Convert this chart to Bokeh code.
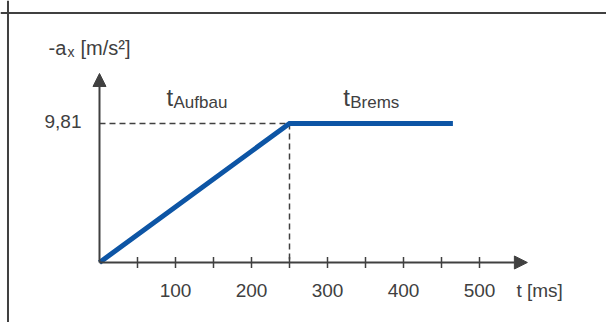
from math import pi
from bokeh.plotting import figure
from bokeh.models import Arrow, NormalHead, Span
from bokeh.core.properties import value
from bokeh.embed import file_html
from bokeh.resources import INLINE

# ---- data ----
time_ms = [0, 250, 465]          # t [ms]
decel = [0, 9.81, 9.81]          # -a_x [m/s²]
a_max = 9.81
a_max_label = "9,81"
tick_values = [50, 100, 150, 200, 250, 300, 350, 400, 450, 500]
label_values = [100, 200, 300, 400, 500]
label_texts = ["100", "200", "300", "400", "500"]
x_axis_end = 563
y_axis_end = 13.34

FONT = value("Liberation Sans")
GREY = "#404040"
BLUE = "#0d55a5"
DY = -8  # baseline correction

W, H = 606, 322
p = figure(width=W, height=H, x_range=(-130.26, 667.1), y_range=(-4.235, 18.491),
           x_axis_type=None, y_axis_type=None, toolbar_location=None,
           output_backend="svg", min_border=0)
p.outline_line_color = None
p.grid.visible = False
p.background_fill_color = "white"
p.border_fill_color = "white"

# frame (top and left)
p.add_layout(Span(location=17.609, dimension="width", line_color=GREY, line_width=2))
p.add_layout(Span(location=-120.4, dimension="height", line_color=GREY, line_width=2))

# dashed guides
p.line([time_ms[0], time_ms[1]], [decel[1], decel[1]], line_color=GREY,
       line_width=1.5, line_dash="6 4")
p.line([time_ms[1], time_ms[1]], [decel[1], decel[0]], line_color=GREY,
       line_width=1.5, line_dash="6 4")

# axes with arrows
p.add_layout(Arrow(end=NormalHead(size=13, fill_color=GREY, line_color=GREY),
                   x_start=0, y_start=0, x_end=x_axis_end, y_end=0,
                   line_color=GREY, line_width=2))
p.add_layout(Arrow(end=NormalHead(size=13, fill_color=GREY, line_color=GREY),
                   x_start=0, y_start=0, x_end=0, y_end=y_axis_end,
                   line_color=GREY, line_width=2))

# ticks
p.scatter(tick_values, [0] * len(tick_values), marker="dash", size=11,
          angle=pi / 2, line_color=GREY, line_width=1.5)

# the curve
p.line(time_ms, decel, line_color=BLUE, line_width=5, line_join="miter")

# tick labels
p.text(label_values, [0] * len(label_values), text=label_texts, y_offset=36 + DY,
       text_align="center", text_baseline="alphabetic", text_font=FONT,
       text_font_size="19px", text_color=GREY)
p.text([x_axis_end], [0], text=["t [ms]"], x_offset=-11, y_offset=36 + DY,
       text_align="left", text_baseline="alphabetic", text_font=FONT,
       text_font_size="19px", text_color=GREY)

# 9,81
p.text([0], [a_max], text=[a_max_label], x_offset=-18, y_offset=6.5 + DY,
       text_align="right", text_baseline="alphabetic", text_font=FONT,
       text_font_size="19px", text_color=GREY)

# y label  -a_x [m/s²]
p.text([0], [y_axis_end], text=["-a"], x_offset=-51, y_offset=-17 + DY,
       text_align="left", text_baseline="alphabetic", text_font=FONT,
       text_font_size="20px", text_color=GREY)
p.text([0], [y_axis_end], text=["x"], x_offset=-32, y_offset=-13 + DY,
       text_align="left", text_baseline="alphabetic", text_font=FONT,
       text_font_size="14px", text_color=GREY)
p.text([0], [y_axis_end], text=["[m/s²]"], x_offset=-19, y_offset=-17 + DY,
       text_align="left", text_baseline="alphabetic", text_font=FONT,
       text_font_size="20px", text_color=GREY)

# phase labels
mid_aufbau = (time_ms[0] + time_ms[1]) / 2
mid_brems = (time_ms[1] + time_ms[2]) / 2
for mid, sub in [(mid_aufbau, "Aufbau"), (mid_brems, "Brems")]:
    p.text([mid], [a_max], text=["t"], x_offset=-28, y_offset=-18 + DY,
           text_align="left", text_baseline="alphabetic", text_font=FONT,
           text_font_size="24px", text_color=GREY)
    p.text([mid], [a_max], text=[sub], x_offset=-21, y_offset=-13 + DY,
           text_align="left", text_baseline="alphabetic", text_font=FONT,
           text_font_size="17px", text_color=GREY)

open("out.html", "w").write(file_html(p, INLINE))
